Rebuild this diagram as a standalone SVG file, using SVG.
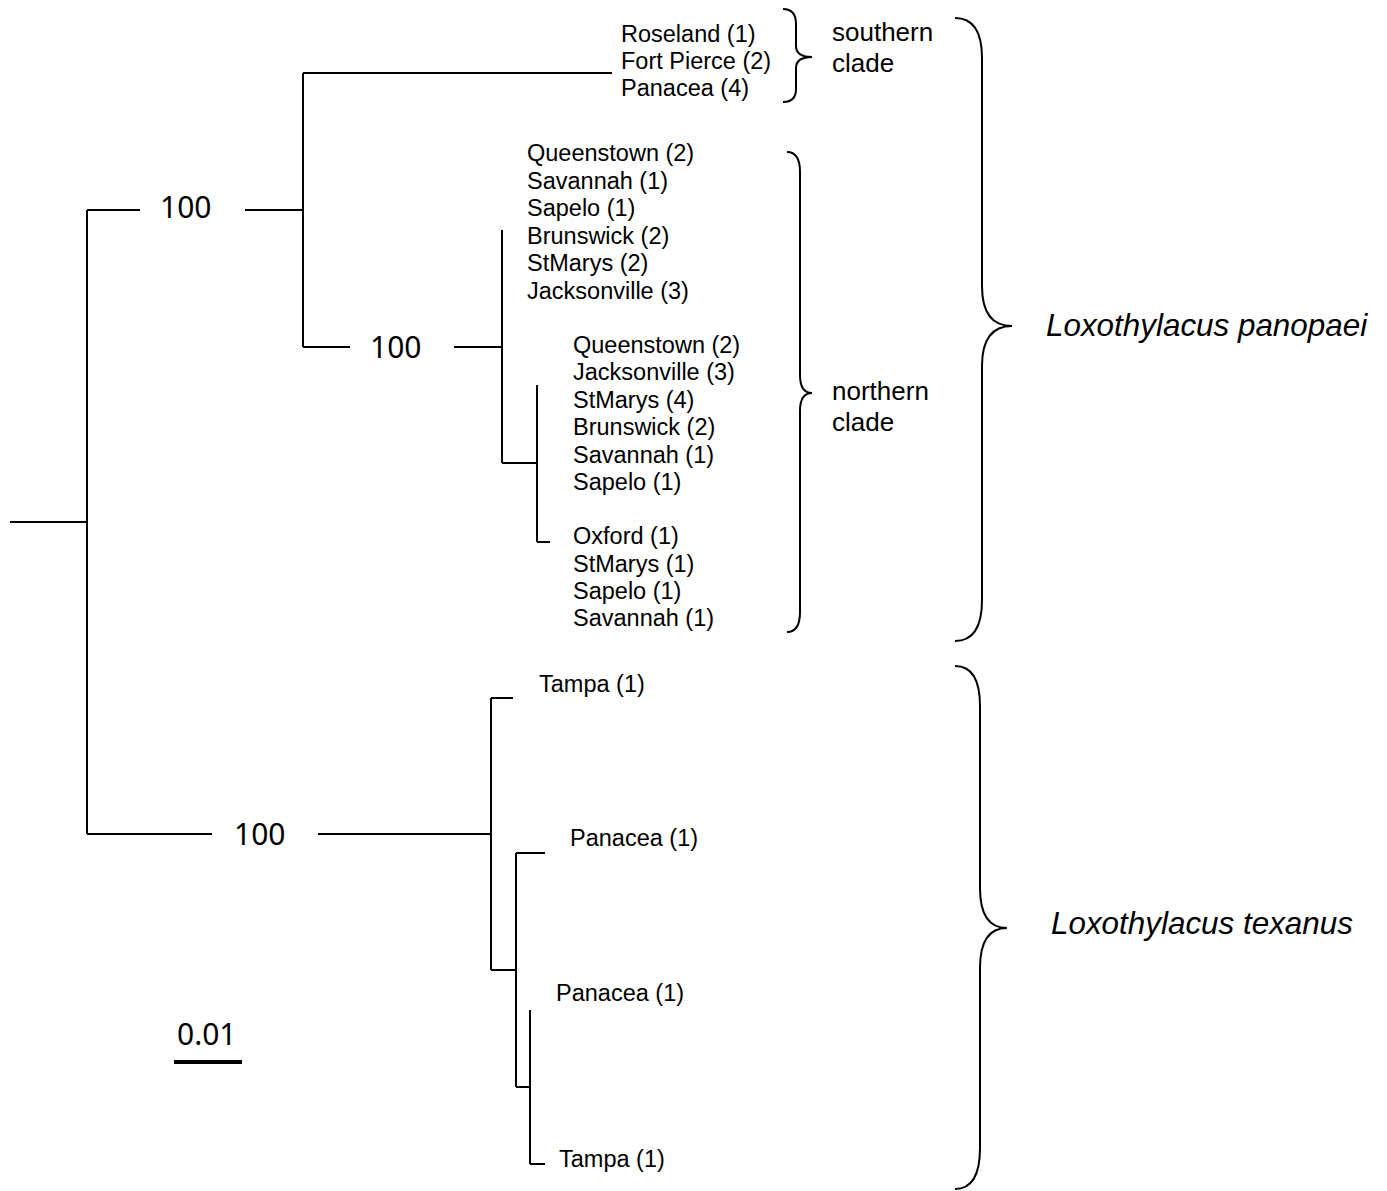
<svg xmlns="http://www.w3.org/2000/svg" width="1387" height="1191" viewBox="0 0 1387 1191">
<style>
.br{fill:none;stroke:#000;stroke-width:2;stroke-linecap:butt}
.brace{fill:none;stroke:#000;stroke-width:2}
.tx{font-family:"Liberation Sans",Arial,sans-serif;font-size:23.5px;fill:#000}
.cl{font-family:"Liberation Sans",Arial,sans-serif;font-size:26px;fill:#000}
.bs{font-family:"Noto Sans","Open Sans",sans-serif;font-size:30px;fill:#000}
.sp{font-family:"Liberation Sans",Arial,sans-serif;font-size:31.4px;font-style:italic;fill:#000}
</style>
<rect width="1387" height="1191" fill="#fff"/>
<g id="connectors">
<path class="br" d="M10,522H87M87,210V834M87,210H140M245,210H303M303,73V347M303,73H612M303,347H350M454,347H502M502,230V463M502,463H537M537,385V542M537,542H550M87,834H212M318,834H491M491,698V970M491,698H513M491,970H516M516,853V1087M516,853H545M516,1087H530M530,1010V1164M530,1164H545"/>
</g>
<g id="bootstrap">
<text class="bs" x="160" y="218">100</text>
<text class="bs" x="370" y="358">100</text>
<text class="bs" x="234" y="845">100</text>
</g>
<g id="scale">
<text class="bs" x="177" y="1045">0.01</text>
<line x1="174" y1="1062" x2="242" y2="1062" stroke="#000" stroke-width="4"/>
</g>
<g id="southern-taxa" class="tx">
<text x="621" y="42">Roseland (1)</text>
<text x="621" y="69">Fort Pierce (2)</text>
<text x="621" y="96">Panacea (4)</text>
</g>
<g id="northern-taxa-1" class="tx">
<text x="527" y="161">Queenstown (2)</text>
<text x="527" y="189">Savannah (1)</text>
<text x="527" y="216">Sapelo (1)</text>
<text x="527" y="244">Brunswick (2)</text>
<text x="527" y="271">StMarys (2)</text>
<text x="527" y="299">Jacksonville (3)</text>
</g>
<g id="northern-taxa-2" class="tx">
<text x="573" y="353">Queenstown (2)</text>
<text x="573" y="380">Jacksonville (3)</text>
<text x="573" y="408">StMarys (4)</text>
<text x="573" y="435">Brunswick (2)</text>
<text x="573" y="463">Savannah (1)</text>
<text x="573" y="490">Sapelo (1)</text>
</g>
<g id="northern-taxa-3" class="tx">
<text x="573" y="544">Oxford (1)</text>
<text x="573" y="572">StMarys (1)</text>
<text x="573" y="599">Sapelo (1)</text>
<text x="573" y="626">Savannah (1)</text>
</g>
<g id="texanus-taxa" class="tx">
<text x="539" y="692">Tampa (1)</text>
<text x="570" y="846">Panacea (1)</text>
<text x="556" y="1001">Panacea (1)</text>
<text x="559" y="1167">Tampa (1)</text>
</g>
<g id="southern-clade">
<path class="brace" d="M783,9Q796,9 796,24L796,46Q796,57 812,57Q796,57 796,68L796,89Q796,102 783,102"/>
<text class="cl" x="832" y="41">southern</text>
<text class="cl" x="832" y="72">clade</text>
</g>
<g id="northern-clade">
<path class="brace" d="M787,152Q800,152 800,172L800,375Q800,393 812,393Q800,393 800,411L800,612Q800,632 787,632"/>
<text class="cl" x="832" y="400">northern</text>
<text class="cl" x="832" y="431">clade</text>
</g>
<g id="panopaei">
<path class="brace" d="M955,18Q982,18 982,58L982,286Q982,326 1012,326Q982,326 982,366L982,600Q982,641 955,641"/>
<text class="sp" x="1046" y="336">Loxothylacus panopaei</text>
</g>
<g id="texanus">
<path class="brace" d="M955,666Q980,666 980,706L980,888Q980,928 1007,928Q980,928 980,968L980,1148Q980,1189 955,1189"/>
<text class="sp" x="1051" y="934">Loxothylacus texanus</text>
</g>
</svg>
